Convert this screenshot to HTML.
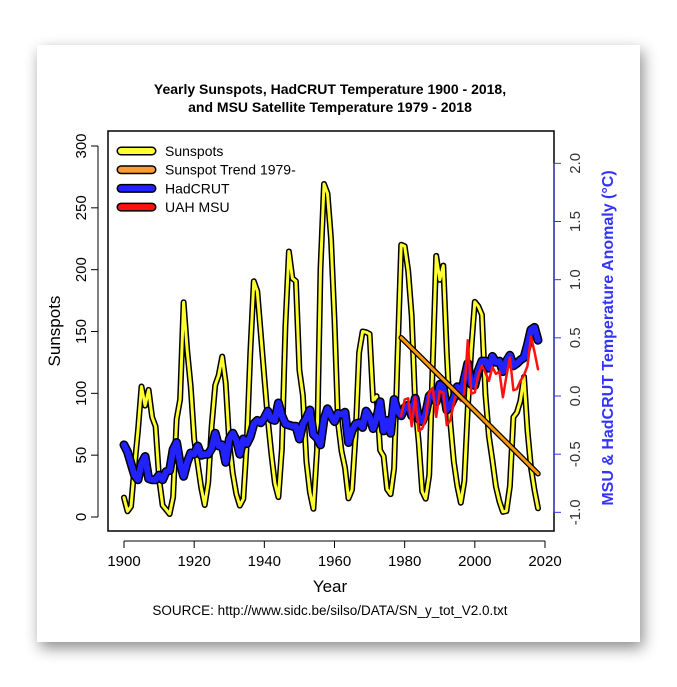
<!DOCTYPE html>
<html><head><meta charset="utf-8">
<style>
body{margin:0;background:#fff;width:677px;height:687px;overflow:hidden;font-family:"Liberation Sans",sans-serif;}
#card{position:absolute;left:37px;top:45px;width:603px;height:597px;background:#fff;box-shadow:3px 6px 14px rgba(0,0,0,0.45);}
svg{position:absolute;left:0;top:0}
</style></head>
<body>
<div id="card"></div>
<svg id="chart" width="677" height="687" font-family="Liberation Sans, sans-serif"></svg>
<script>
const years=[];for(let y=1900;y<=2018;y++)years.push(y);
const sunspots=[15.7,4.6,8.5,40.8,70.1,105.5,90.1,102.8,80.9,73.2,30.9,9.5,6.0,2.4,16.1,79.0,95.0,173.6,134.6,105.7,62.7,43.5,23.7,9.7,27.9,74.0,106.5,114.7,129.7,108.2,59.4,35.1,18.6,9.2,14.6,60.2,132.8,190.6,182.6,148.0,113.0,79.2,50.8,27.1,16.1,55.3,154.3,214.7,193.0,190.7,118.9,98.3,45.0,20.1,6.6,54.2,200.7,269.3,261.7,225.1,159.0,76.4,53.4,39.9,15.0,22.0,66.8,132.9,150.0,149.4,148.0,94.4,97.6,54.1,49.2,22.5,18.4,39.3,131.0,220.1,218.9,198.9,162.4,91.0,60.5,20.6,14.8,33.9,123.0,211.1,191.8,203.3,133.0,76.1,44.9,25.1,11.6,28.9,88.3,136.3,173.9,170.4,163.6,99.3,65.3,45.8,24.7,12.6,4.2,4.8,24.9,80.8,84.5,94.0,113.3,69.8,39.8,21.7,7.0];
const hadcrut=[-0.42,-0.48,-0.58,-0.68,-0.72,-0.58,-0.52,-0.71,-0.72,-0.72,-0.68,-0.72,-0.65,-0.64,-0.46,-0.40,-0.58,-0.69,-0.57,-0.49,-0.50,-0.43,-0.51,-0.50,-0.50,-0.45,-0.32,-0.43,-0.42,-0.57,-0.37,-0.32,-0.38,-0.50,-0.37,-0.41,-0.35,-0.24,-0.21,-0.23,-0.19,-0.13,-0.20,-0.21,-0.06,-0.17,-0.24,-0.25,-0.26,-0.26,-0.37,-0.24,-0.19,-0.12,-0.33,-0.36,-0.42,-0.20,-0.11,-0.17,-0.22,-0.15,-0.16,-0.14,-0.40,-0.30,-0.24,-0.23,-0.27,-0.13,-0.18,-0.28,-0.19,-0.05,-0.30,-0.21,-0.32,-0.03,-0.13,-0.17,-0.10,-0.08,-0.17,-0.02,-0.20,-0.22,-0.15,0.00,0.03,-0.05,0.10,0.07,-0.12,-0.08,-0.02,0.08,0.00,0.15,0.28,0.10,0.09,0.22,0.30,0.30,0.24,0.34,0.29,0.30,0.21,0.30,0.35,0.26,0.28,0.31,0.33,0.44,0.57,0.59,0.48];
const uahYears=[];for(let y=1979;y<=2018;y++)uahYears.push(y);
const uah=[-0.17,-0.03,-0.02,-0.26,-0.01,-0.30,-0.28,-0.20,0.03,0.07,-0.18,0.04,0.03,-0.25,-0.21,-0.06,0.05,-0.04,0.02,0.48,0.02,0.03,0.18,0.26,0.20,0.13,0.25,0.19,0.21,-0.01,0.17,0.33,0.05,0.06,0.13,0.18,0.26,0.51,0.38,0.23];
const trendYears=[1979,2018];
const trendValues=[145,35];
const xTicks=[1900,1920,1940,1960,1980,2000,2020];
const leftTicks=[0,50,100,150,200,250,300];
const rightTicks=[-1.0,-0.5,0.0,0.5,1.0,1.5,2.0];

const NS="http://www.w3.org/2000/svg";
const svg=document.getElementById('chart');
const X=y=>124+(y-1900)*(421/120);
const YL=v=>517-v*(371/300);
const YR=v=>396-v*(349/3);
function mk(tag,attrs,parent){const e=document.createElementNS(NS,tag);for(const k in attrs)e.setAttribute(k,attrs[k]);(parent||svg).appendChild(e);return e;}
function pts(xs,ys,f){return xs.map((x,i)=>X(x).toFixed(1)+','+f(ys[i]).toFixed(1)).join(' ');}

// title
let t=mk('text',{x:330,y:94,'text-anchor':'middle','font-size':14,'font-weight':'bold'});t.textContent='Yearly Sunspots, HadCRUT Temperature 1900 - 2018,';

t=mk('text',{x:330,y:112,'text-anchor':'middle','font-size':14,'font-weight':'bold'});t.textContent='and MSU Satellite Temperature 1979 - 2018';


// box
let b=mk('rect',{x:108,y:131,width:446,height:400,fill:'none',stroke:'#000','stroke-width':1.5});


// x axis
const gx=mk('g',{});
mk('line',{x1:X(1900),x2:X(2020),y1:541,y2:541,stroke:'#000'},gx);
xTicks.forEach(v=>{mk('line',{x1:X(v),x2:X(v),y1:541,y2:548,stroke:'#000'},gx);
 const l=mk('text',{x:X(v),y:566,'text-anchor':'middle','font-size':15},gx);l.textContent=v;
 });
t=mk('text',{x:330,y:592,'text-anchor':'middle','font-size':17});t.textContent='Year';

t=mk('text',{x:330,y:615,'text-anchor':'middle','font-size':13.5});t.textContent='SOURCE: http://www.sidc.be/silso/DATA/SN_y_tot_V2.0.txt';


// left axis
const gl=mk('g',{});
mk('line',{x1:98,x2:98,y1:YL(0),y2:YL(300),stroke:'#000'},gl);
leftTicks.forEach(v=>{mk('line',{x1:91,x2:98,y1:YL(v),y2:YL(v),stroke:'#000'},gl);
 const l=mk('text',{x:86,y:YL(v),'text-anchor':'middle','font-size':15,transform:`rotate(-90 86 ${YL(v)})`},gl);l.textContent=v;
 });
t=mk('text',{x:60,y:331,'text-anchor':'middle','font-size':17,transform:'rotate(-90 60 331)'});t.textContent='Sunspots';


// right axis
const gr=mk('g',{});
mk('line',{x1:554,x2:554,y1:YR(-1),y2:YR(2),stroke:'#3333ff'},gr);
rightTicks.forEach(v=>{mk('line',{x1:554,x2:561,y1:YR(v),y2:YR(v),stroke:'#3333ff'},gr);
 const l=mk('text',{x:580,y:YR(v),'text-anchor':'middle','font-size':15,fill:'#333',transform:`rotate(-90 580 ${YR(v)})`},gr);l.textContent=v.toFixed(1);
 });
t=mk('text',{x:613,y:338,'text-anchor':'middle','font-size':16,'font-weight':'bold',fill:'#3333ff',transform:'rotate(-90 613 338)'});t.textContent='MSU & HadCRUT Temperature Anomaly (°C)';


// series
function series(name,p,outer,inner,ow,iw){const g=mk('g',{});
 if(ow)mk('polyline',{points:p,fill:'none',stroke:outer,'stroke-width':ow,'stroke-linejoin':'round','stroke-linecap':'round'},g);
 mk('polyline',{points:p,fill:'none',stroke:inner,'stroke-width':iw,'stroke-linejoin':'round','stroke-linecap':'round'},g);}
series('sunspots-line',pts(years,sunspots,YL),'#000','#ffff33',6,3);
series('hadcrut-line',pts(years,hadcrut,YR),'#000','#2222ff',9,6);
series('uah-msu-line',pts(uahYears,uah,YR),null,'#ff1111',0,2.5);
series('sunspot-trend-line',pts(trendYears,trendValues,YL),'#000','#ff9900',5.5,3);

// legend
const leg=[['Sunspots','#ffff33'],['Sunspot Trend 1979-','#ff9933'],['HadCRUT','#2222ff'],['UAH MSU','#ff1111']];
const gL=mk('g',{});
leg.forEach((d,i)=>{const y=151+i*18.7;
 const e=mk('g',{},gL);
 mk('line',{x1:121,x2:152,y1:y,y2:y,stroke:'#000','stroke-width':9,'stroke-linecap':'round'},e);
 mk('line',{x1:121,x2:152,y1:y,y2:y,stroke:d[1],'stroke-width':6,'stroke-linecap':'round'},e);
 const l=mk('text',{x:165,y:y+5,'font-size':14},e);l.textContent=d[0];});
</script>
</body></html>
